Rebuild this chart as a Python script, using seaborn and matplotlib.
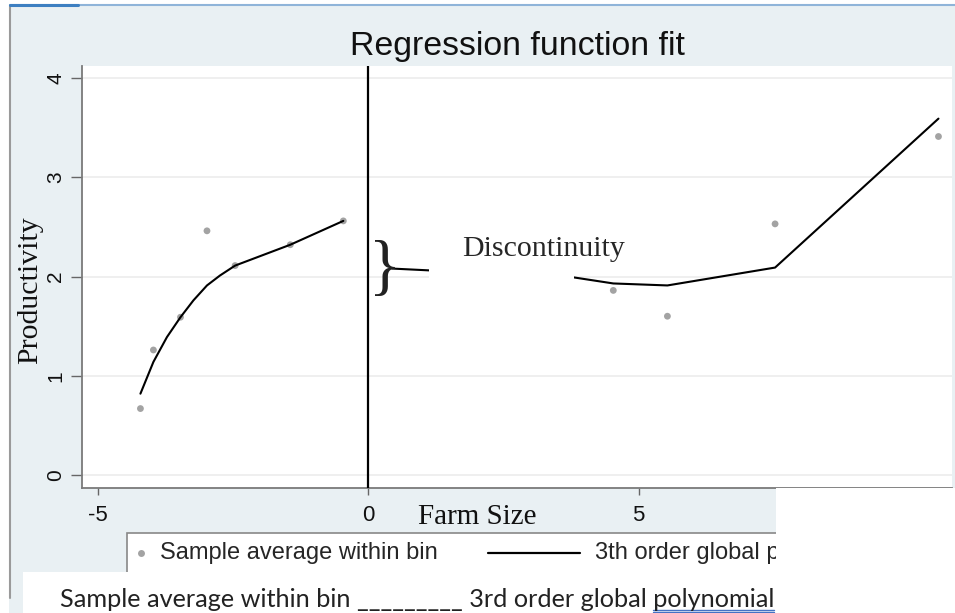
import numpy as np
import pandas as pd
import matplotlib
matplotlib.use("Agg")
import matplotlib.pyplot as plt
from matplotlib.patches import Rectangle
from matplotlib.lines import Line2D
import seaborn as sns

# sample averages within bins (left / right of cutoff)
left_bin_x = [-4.21, -3.97, -3.47, -2.98, -2.46, -1.44, -0.46]
left_bin_y = [0.67, 1.26, 1.59, 2.46, 2.11, 2.32, 2.56]
right_bin_x = [4.53, 5.53, 7.52, 10.54]
right_bin_y = [1.86, 1.60, 2.53, 3.41]

# 3rd order global polynomial fit
left_fit_x = [-4.21, -3.97, -3.72, -3.47, -3.23, -2.98, -2.74, -2.46, -1.44, -0.46]
left_fit_y = [0.82, 1.14, 1.39, 1.59, 1.76, 1.91, 2.01, 2.11, 2.32, 2.56]
right_fit_x = [0.44, 3.81, 4.53, 5.53, 7.52, 10.54]
right_fit_y = [2.08, 1.99, 1.93, 1.91, 2.09, 3.59]

y_ticks = [0, 1, 2, 3, 4]
x_ticks = [-5, 0, 5]

W, H = 955, 613
def fx(px):
    return px / W
def fy(py):
    return 1 - py / H

sns.set_theme(style="white")
plt.rcParams["font.family"] = ["Liberation Sans", "DejaVu Sans"]

bg = "#e9f0f3"
fig = plt.figure(figsize=(9.55, 6.13), dpi=100, facecolor=bg)
ax = fig.add_axes([fx(82), fy(488), fx(952) - fx(82), fy(66) - fy(488)])
ax.set_facecolor("white")

pts = pd.DataFrame({"x": left_bin_x + right_bin_x, "y": left_bin_y + right_bin_y})
fit_l = pd.DataFrame({"x": left_fit_x, "y": left_fit_y})
fit_r = pd.DataFrame({"x": right_fit_x, "y": right_fit_y})

sns.scatterplot(data=pts, x="x", y="y", color="#a3a3a3", s=24, edgecolor="none", ax=ax, zorder=3)
sns.lineplot(data=fit_l, x="x", y="y", color="black", lw=1.5, estimator=None, sort=False, ax=ax, zorder=4)
sns.lineplot(data=fit_r, x="x", y="y", color="black", lw=1.5, estimator=None, sort=False, ax=ax, zorder=4)
ax.axvline(0, color="black", lw=1.6, zorder=5)

ax.set_xlim(-5.29, 10.79)
ax.set_ylim(-0.13, 4.12)
ax.set_yticks(y_ticks)
ax.set_xticks(x_ticks)
ax.set_yticklabels([str(v) for v in y_ticks], rotation=90, va="center")
ax.set_xticklabels([str(v) for v in x_ticks])
ax.set_xlabel("")
ax.set_ylabel("")
ax.yaxis.grid(True, color="#ececec", lw=1.2)
ax.xaxis.grid(False)
for s in ["top", "right"]:
    ax.spines[s].set_visible(False)
for s in ["left", "bottom"]:
    ax.spines[s].set_color("#7a7a7a")
    ax.spines[s].set_linewidth(1.3)
ax.tick_params(axis="y", length=8, width=1, color="#666666", labelsize=15, pad=4, labelcolor="#111111", left=True)
ax.tick_params(axis="x", length=5, width=1, color="#666666", labelsize=16, pad=7, labelcolor="#111111", bottom=True)

# white box behind the annotation text
ax.add_patch(Rectangle((1.12, 1.85), 2.68, 0.5, facecolor="white", edgecolor="none", zorder=6))
ax.text(1.74, 2.205, "Discontinuity", family="Liberation Serif", fontsize=21.5, va="baseline", zorder=7)
ax.text(0.30, 2.06, "}", family="Liberation Serif", fontsize=48, ha="center", va="center",
        color="#222222", zorder=7)

ax.set_title("Regression function fit", fontsize=24.4, pad=8, color="#111111")
fig.text(fx(30), fy(290), "Productivity", family="Liberation Serif", fontsize=21.5, rotation=90,
         ha="center", va="center", color="#111111")
fig.text(fx(477), fy(517), "Farm Size", family="Liberation Serif", fontsize=21, ha="center", va="center",
         color="#111111")

# legend box
fig.add_artist(Rectangle((fx(127), fy(590)), fx(955) - fx(127), fy(533) - fy(590), transform=fig.transFigure,
                         facecolor="white", edgecolor="#888888", lw=1.2, zorder=5))
fig.add_artist(Line2D([fx(141)], [fy(553)], marker="o", ms=5, color="#a3a3a3", mec="none",
                      transform=fig.transFigure, zorder=6))
fig.text(fx(160), fy(553), "Sample average within bin", fontsize=17, va="center", zorder=6)
fig.add_artist(Line2D([fx(488), fx(580)], [fy(553), fy(553)], color="black", lw=1.6,
                      transform=fig.transFigure, zorder=6))
fig.text(fx(595), fy(553), "3th order global polynomial", fontsize=17, va="center", zorder=6)

# pasted-over white areas
fig.add_artist(Rectangle((fx(776), 0), 1 - fx(776), fy(488), transform=fig.transFigure,
                         facecolor="white", edgecolor="none", zorder=10))
fig.add_artist(Rectangle((fx(23), 0), 1 - fx(23), fy(572), transform=fig.transFigure,
                         facecolor="white", edgecolor="none", zorder=10))
fig.add_artist(Rectangle((0, 0), fx(9), 1, transform=fig.transFigure,
                         facecolor="white", edgecolor="none", zorder=10))
fig.add_artist(Rectangle((0, fy(4)), 1, 1 - fy(4), transform=fig.transFigure,
                         facecolor="white", edgecolor="none", zorder=10))
fig.add_artist(Line2D([fx(10), fx(10)], [fy(5), fy(598)], color="#9a9a9a", lw=1.5,
                      transform=fig.transFigure, zorder=11))
fig.add_artist(Line2D([fx(10), 1], [fy(5), fy(5)], color="#8fb4d9", lw=1.5,
                      transform=fig.transFigure, zorder=11))
fig.add_artist(Line2D([fx(10), fx(78)], [fy(5), fy(5)], color="#3d7fc1", lw=2.2,
                      transform=fig.transFigure, zorder=12))

# caption underneath
caption = "Sample average within bin _________ 3rd order global polynomial"
cap = fig.text(fx(60), fy(607), caption, family="Lato", fontsize=17, va="baseline", color="#222222", zorder=12)
fig.canvas.draw()
r = fig.canvas.get_renderer()
w = cap.get_window_extent(r).width
cap.set_fontsize(17 * 711 / w)
fig.canvas.draw()
bb = cap.get_window_extent(r)
probe = fig.text(0, 0, "polynomial", family="Lato", fontsize=cap.get_fontsize())
wp = probe.get_window_extent(r).width
probe.remove()
for dy in (0, 2):
    fig.add_artist(Line2D([(bb.x1 - wp) / W, bb.x1 / W], [fy(610 + dy), fy(610 + dy)], color="#4472c4", lw=1,
                          transform=fig.transFigure, zorder=12))

fig.savefig("out.png", dpi=100, facecolor=fig.get_facecolor())
